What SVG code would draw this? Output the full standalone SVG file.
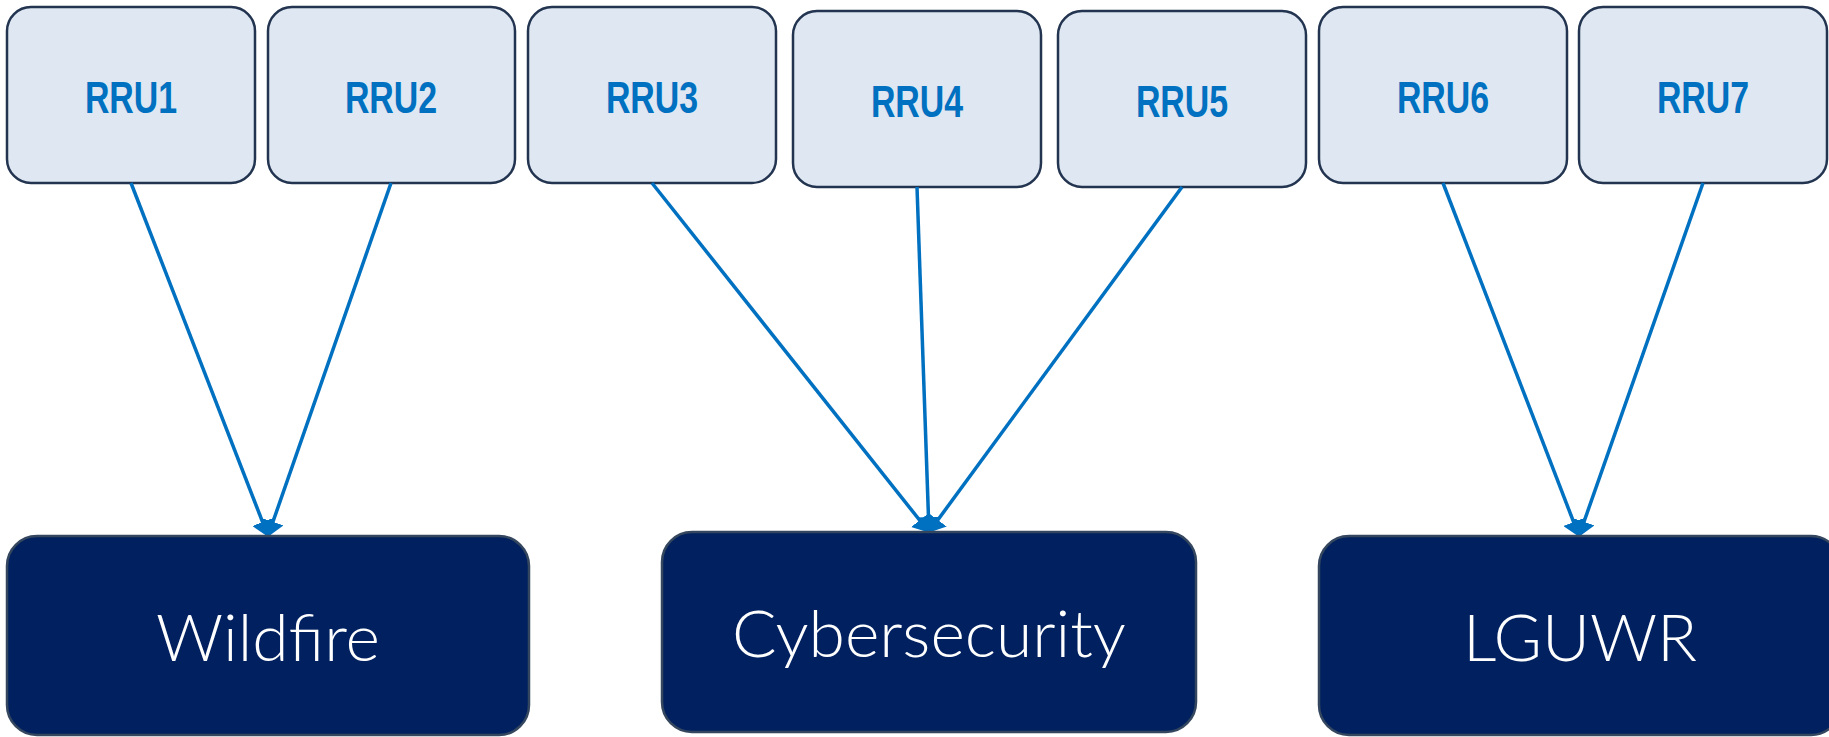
<svg xmlns="http://www.w3.org/2000/svg" width="1829" height="737" viewBox="0 0 1829 737">
  <style>
    .rru rect { fill: #DFE7F2; stroke: #22344F; stroke-width: 2.5; }
    .rru text { font-family: "Liberation Sans", Arial, sans-serif; font-weight: bold; font-size: 44px; fill: #0070C0; text-anchor: middle; }
    .hub rect { fill: #00205F; stroke: #34475F; stroke-width: 2.5; }
    .hub text { font-family: Lato, "Liberation Sans", sans-serif; font-weight: 300; font-size: 66px; fill: #FFFFFF; text-anchor: middle; }
    .links line { stroke: #0070C0; stroke-width: 3.5; fill: none; marker-end: url(#arrow); }
  </style>
  <defs>
    <!-- filled arrowhead, tip sits on the end point -->
    <marker id="arrow" markerUnits="userSpaceOnUse" viewBox="0 0 16 22" markerWidth="16" markerHeight="22" refX="15" refY="11" orient="auto">
      <path d="M0,0 L16,11 L0,22 Z" fill="#0070C0"/>
    </marker>
  </defs>

  <rect width="1829" height="737" fill="#FFFFFF"/>

  <!-- radio units -->
  <g id="rru1" class="rru">
    <rect x="7" y="7" width="248" height="176" rx="24"/>
    <text transform="translate(131,113) scale(0.77,1)">RRU1</text>
  </g>
  <g id="rru2" class="rru">
    <rect x="268" y="7" width="247" height="176" rx="24"/>
    <text transform="translate(391,113) scale(0.77,1)">RRU2</text>
  </g>
  <g id="rru3" class="rru">
    <rect x="528" y="7" width="248" height="176" rx="24"/>
    <text transform="translate(652,113) scale(0.77,1)">RRU3</text>
  </g>
  <g id="rru4" class="rru">
    <rect x="793" y="11" width="248" height="176" rx="24"/>
    <text transform="translate(917,117) scale(0.77,1)">RRU4</text>
  </g>
  <g id="rru5" class="rru">
    <rect x="1058" y="11" width="248" height="176" rx="24"/>
    <text transform="translate(1182,117) scale(0.77,1)">RRU5</text>
  </g>
  <g id="rru6" class="rru">
    <rect x="1319" y="7" width="248" height="176" rx="24"/>
    <text transform="translate(1443,113) scale(0.77,1)">RRU6</text>
  </g>
  <g id="rru7" class="rru">
    <rect x="1579" y="7" width="248" height="176" rx="24"/>
    <text transform="translate(1703,113) scale(0.77,1)">RRU7</text>
  </g>

  <!-- connectors -->
  <g id="connectors" class="links">
    <line x1="131" y1="183" x2="268" y2="536"/>
    <line x1="391" y1="183" x2="268" y2="536"/>
    <line x1="652" y1="183" x2="929" y2="532"/>
    <line x1="917" y1="187" x2="929" y2="532"/>
    <line x1="1182" y1="187" x2="929" y2="532"/>
    <line x1="1443" y1="183" x2="1579" y2="536"/>
    <line x1="1703" y1="183" x2="1579" y2="536"/>
  </g>

  <!-- service groups -->
  <g id="wildfire" class="hub">
    <rect x="7" y="536" width="522" height="199" rx="30"/>
    <text x="268" y="661">Wildfire</text>
  </g>
  <g id="cybersecurity" class="hub">
    <rect x="662" y="532" width="534" height="200" rx="30"/>
    <text x="929" y="657">Cybersecurity</text>
  </g>
  <g id="lguwr" class="hub">
    <rect x="1319" y="536" width="522" height="199" rx="30"/>
    <text x="1580" y="661">LGUWR</text>
  </g>
</svg>
